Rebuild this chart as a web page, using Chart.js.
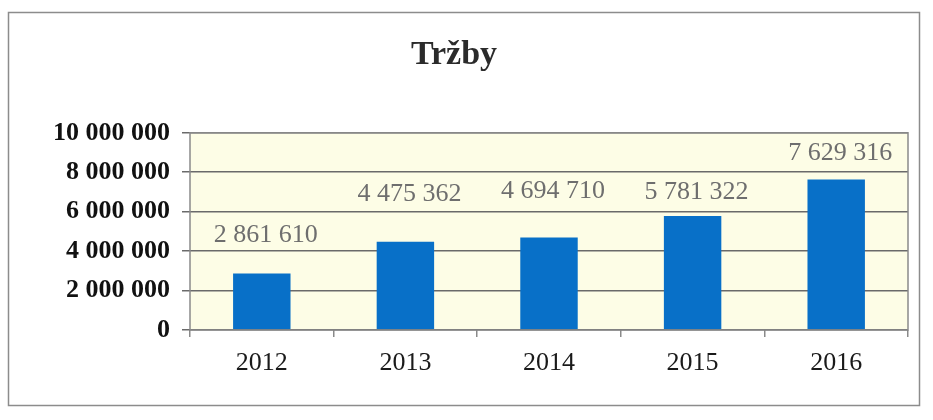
<!DOCTYPE html>
<html>
<head>
<meta charset="utf-8">
<script src="https://cdn.jsdelivr.net/npm/chart.js@4/dist/chart.umd.min.js"></script>
<style>
  html, body { margin: 0; padding: 0; background: #fff; }
  #wrap { width: 933px; height: 420px; position: relative; }
</style>
</head>
<body>
<div id="wrap"><canvas id="chart" width="933" height="420"></canvas></div>
<script>
// Data
const years = ["2012", "2013", "2014", "2015", "2016"];
const revenue = [2861610, 4475362, 4694710, 5781322, 7629316];
const yTicks = [0, 2000000, 4000000, 6000000, 8000000, 10000000];

// how far each value label sits above its bar (px)
const labelLift = [38, 48, 46, 24, 26];

// 1234567 -> "1 234 567"
function spaced(n) {
    return String(n).replace(/\B(?=(\d{3})+(?!\d))/g, " ");
}

// Frame round the whole chart + yellow plot background
const framePlugin = {
    id: "frame",
    beforeDraw(chart) {
        const c = chart.ctx;
        const a = chart.chartArea;
        c.save();
        c.fillStyle = "#fff";
        c.fillRect(0, 0, chart.width, chart.height);
        c.strokeStyle = "#8c8c8c";
        c.lineWidth = 1.5;
        c.strokeRect(8.5, 12.5, 911, 393);
        c.fillStyle = "#fdfde6";
        c.fillRect(a.left, a.top, a.right - a.left, a.bottom - a.top);
        c.restore();
    },
    afterDraw(chart) {
        const c = chart.ctx;
        const a = chart.chartArea;
        c.save();
        c.strokeStyle = "#8a8a8a";
        c.lineWidth = 1.5;
        c.strokeRect(a.left, a.top, a.right - a.left, a.bottom - a.top);
        c.restore();
    }
};

// Value labels above the bars
const valueLabels = {
    id: "valueLabels",
    afterDatasetsDraw(chart) {
        const c = chart.ctx;
        const meta = chart.getDatasetMeta(0);
        c.save();
        c.font = "26px 'Liberation Serif', 'Times New Roman', serif";
        c.fillStyle = "#6e6e6e";
        c.textAlign = "center";
        c.textBaseline = "middle";
        meta.data.forEach((bar, i) => {
            c.fillText(spaced(revenue[i]), bar.x + 4, bar.y - labelLift[i]);
        });
        c.restore();
    }
};

const ctx = document.getElementById("chart").getContext("2d");
new Chart(ctx, {
    type: "bar",
    data: {
        labels: years,
        datasets: [{
            label: "Tržby",
            data: revenue,
            backgroundColor: "#0870c8",
            borderWidth: 0,
            categoryPercentage: 1,
            barPercentage: 0.4
        }]
    },
    options: {
        responsive: false,
        animation: false,
        layout: { padding: { left: 0, right: 25, top: 0, bottom: 0 } },
        plugins: {
            legend: { display: false },
            tooltip: { enabled: false },
            title: {
                display: true,
                text: "Tržby",
                color: "#2b2b2b",
                font: { family: "'Liberation Serif', 'Times New Roman', serif", size: 34, weight: "bold" },
                padding: { top: 35, bottom: 57 }
            }
        },
        scales: {
            x: {
                grid: {
                    drawOnChartArea: false,
                    drawTicks: true,
                    tickLength: 7,
                    color: "#8a8a8a",
                    lineWidth: 1.5
                },
                border: { display: false },
                ticks: {
                    color: "#1a1a1a",
                    padding: 11,
                    font: { family: "'Liberation Serif', 'Times New Roman', serif", size: 26 }
                },
                afterFit(scale) { scale.height = 90; }
            },
            y: {
                min: 0,
                max: 10000000,
                afterBuildTicks(scale) {
                    scale.ticks = yTicks.map(v => ({ value: v }));
                },
                grid: {
                    color: "#6a6a6a",
                    lineWidth: 1.5,
                    tickLength: 8
                },
                border: { display: false },
                ticks: {
                    color: "#111",
                    padding: 12,
                    font: { family: "'Liberation Serif', 'Times New Roman', serif", size: 26, weight: "bold" },
                    callback: v => spaced(v)
                },
                afterFit(scale) { scale.width = 190; }
            }
        }
    },
    plugins: [framePlugin, valueLabels]
});
</script>
</body>
</html>
